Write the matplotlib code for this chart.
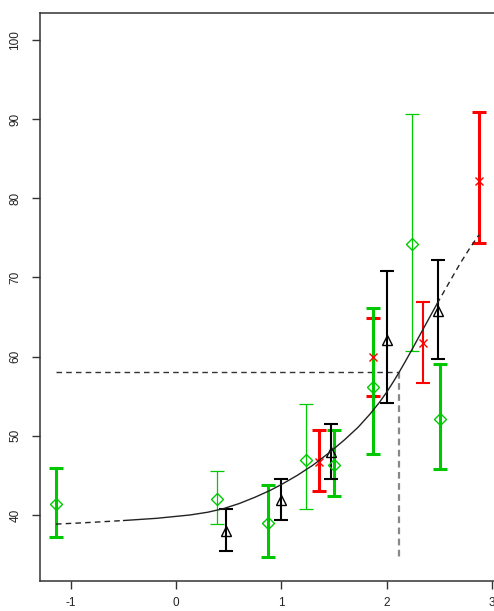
import matplotlib
matplotlib.use("Agg")
import matplotlib.pyplot as plt

plt.rcParams['font.family'] = ['Liberation Sans', 'DejaVu Sans']

# green series (diamonds): x, estimate, lower, upper, heavy bar?
green_x = [-1.143, 0.391, 0.870, 1.234, 1.503, 1.868, 2.245, 2.508]
green_y = [41.35, 42.06, 39.03, 46.95, 46.30, 56.20, 74.23, 52.09]
green_lo = [37.18, 38.86, 34.73, 40.72, 42.40, 47.70, 60.75, 45.81]
green_hi = [45.97, 45.56, 43.79, 53.98, 50.74, 66.10, 90.65, 59.07]
green_heavy = [True, False, True, False, True, True, False, True]

# red series (crosses)
red_x = [1.360, 1.868, 2.349, 2.878]
red_y = [46.73, 60.00, 61.69, 82.19]
red_lo = [43.07, 55.07, 56.71, 74.32]
red_hi = [50.74, 64.92, 66.87, 90.94]
red_heavy = [True, True, False, True]

# black series (triangles)
black_x = [0.470, 1.000, 1.469, 2.007, 2.486]
black_y = [38.02, 41.90, 48.00, 62.10, 65.80]
black_lo = [35.49, 39.37, 44.50, 54.10, 59.70]
black_hi = [40.72, 44.59, 51.45, 70.82, 72.21]

# fitted curve, with the extrapolated ends drawn dashed
curve_x = [-1.143, -0.950, -0.788, -0.500, -0.185, 0.131, 0.300, 0.448,
           0.600, 0.750, 0.892, 1.000, 1.150, 1.300, 1.462, 1.600, 1.730,
           1.842, 1.930, 2.000, 2.060, 2.115, 2.180, 2.245, 2.360, 2.480,
           2.600, 2.700, 2.790, 2.878]
curve_y = [38.85, 38.97, 39.08, 39.30, 39.58, 40.00, 40.35, 40.80,
           41.45, 42.25, 43.10, 43.85, 45.00, 46.30, 47.95, 49.50, 51.10,
           52.75, 54.20, 55.50, 56.75, 57.95, 59.45, 61.00, 63.80, 66.70,
           69.50, 71.80, 73.70, 75.40]
fit_lo, fit_hi = -0.75, 2.49

# inverse prediction
target_y = 58.06
target_x = 2.115
guide_floor = 34.3

GREEN = '#00c800'
RED = '#ff0000'
BLACK = '#000000'
LW_HEAVY, LW_MED, LW_THIN = 2.2, 1.5, 0.9

fig = plt.figure(figsize=(4.94, 6.11), dpi=100)
ax = fig.add_axes([40 / 494, 30 / 611, 465 / 494, 568.3 / 611])


def bars(xs, ys, lo, hi, lws, color, marker, ms):
    for x, y, l, h, lw in zip(xs, ys, lo, hi, lws):
        ax.errorbar([x], [y], yerr=[[y - l], [h - y]], fmt='none',
                    ecolor=color, elinewidth=lw, capsize=5, capthick=lw,
                    zorder=2)
    ax.plot(xs, ys, linestyle='none', marker=marker, markersize=ms,
            markerfacecolor='none', markeredgecolor=color,
            markeredgewidth=1.0, zorder=3)


bars(red_x, red_y, red_lo, red_hi,
     [LW_HEAVY if h else LW_MED for h in red_heavy], RED, 'x', 5.5)
bars(green_x, green_y, green_lo, green_hi,
     [LW_HEAVY if h else LW_THIN for h in green_heavy], GREEN, 'D', 6.5)
bars(black_x, black_y, black_lo, black_hi,
     [LW_MED] * len(black_x), BLACK, '^', 7)

# curve: solid inside the fitted range, dashed outside it
inner = [(x, y) for x, y in zip(curve_x, curve_y) if fit_lo <= x <= fit_hi]
left = [(x, y) for x, y in zip(curve_x, curve_y) if x <= inner[0][0]]
right = [(x, y) for x, y in zip(curve_x, curve_y) if x >= inner[-1][0]]
ax.plot(*zip(*inner), color='#222222', lw=1.0, zorder=4)
ax.plot(*zip(*left), color='#222222', lw=1.0, ls=(0, (4, 3)), zorder=4)
ax.plot(*zip(*right), color='#222222', lw=1.0, ls=(0, (4, 3)), zorder=4)

# guide lines for the read-off value
ax.plot([green_x[0], target_x], [target_y, target_y], color='#333333',
        lw=1.0, ls=(0, (4, 3)), zorder=1)
ax.plot([target_x, target_x], [target_y, guide_floor], color='#888888',
        lw=1.6, ls=(0, (3, 2)), zorder=1)

ax.set_xlim(-1.295, 3.125)
ax.set_ylim(31.66, 103.45)
ax.set_xticks([-1, 0, 1, 2, 3])
ax.set_xticklabels(['-1', '0', '1', '2', '3'])
ax.set_yticks([40, 50, 60, 70, 80, 90, 100])
for lab in ax.get_yticklabels():
    lab.set_rotation(90)
    lab.set_va('center')

ax.tick_params(axis='both', direction='out', length=5.5, width=1.0,
               colors='#333333', labelsize=8.5, labelcolor='#222222')
ax.tick_params(axis='x', pad=6)
ax.tick_params(axis='y', pad=8)
for side in ax.spines.values():
    side.set_color('#333333')
    side.set_linewidth(1.1)

fig.savefig('out.png', dpi=100)
